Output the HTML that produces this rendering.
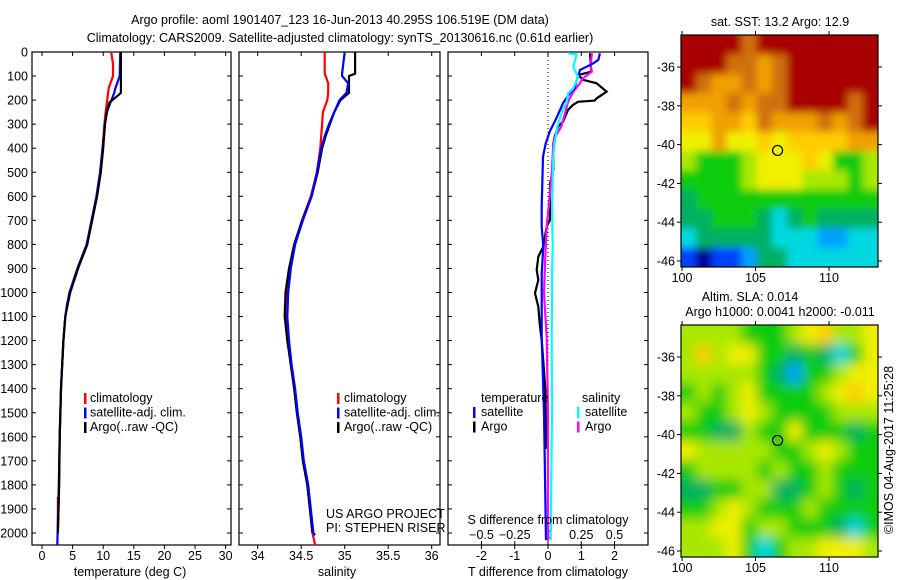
<!DOCTYPE html>
<html><head><meta charset="utf-8"><style>
html,body{margin:0;padding:0;background:#fff;}
svg{display:block;font-family:"Liberation Sans",sans-serif;}
text{font-size:12.5px;fill:#000;}
</style></head><body>
<svg id="c" width="900" height="580" viewBox="0 0 900 580"></svg>
<script>
// ---- data ----
const depthTicks=[0,100,200,300,400,500,600,700,800,900,1000,1100,1200,1300,1400,1500,1600,1700,1800,1900,2000];
const tempTicks=[0,5,10,15,20,25,30];
const salTicks=[34,34.5,35,35.5,36];
const tdTicks=[-2,-1,0,1,2];
const sdTicks=[-0.5,-0.25,0,0.25,0.5];
const lonTicks=[100,105,110];
const latTicks=[-36,-38,-40,-42,-44,-46];

const tDepth=[0,50,100,150,170,190,210,250,300,400,500,600,700,800,900,1000,1050,1100,1200,1300,1400,1600,1800,2000,2050];
const tArgo=[12.9,12.9,12.9,12.9,12.9,12.0,11.0,10.6,10.3,10.0,9.6,9.0,8.2,7.4,5.9,4.6,4.2,3.8,3.5,3.3,3.1,2.9,2.8,2.6,2.6];
const tClim=[11.3,11.6,11.6,10.9,10.8,10.7,10.6,10.4,10.2,9.9,9.5,8.9,8.1,7.3,5.8,4.5,4.1,3.8,3.5,3.3,3.1,2.9,2.8,2.6,2.6];
const tSat=[12.8,12.75,12.7,12.0,11.8,11.5,11.2,10.6,10.3,9.9,9.5,8.9,8.1,7.3,5.8,4.5,4.1,3.8,3.5,3.3,3.1,2.9,2.75,2.55,2.5];

const sDepth=[0,90,100,130,170,200,250,300,350,400,500,600,700,800,900,1000,1100,1200,1300,1400,1500,1600,1700,1800,1900,2000,2050];
const sArgo=[35.12,35.12,35.05,35.05,35.05,34.95,34.88,34.83,34.78,34.74,34.69,34.62,34.51,34.42,34.36,34.32,34.31,34.34,34.38,34.42,34.45,34.49,34.52,34.57,34.6,34.63,34.63];
const sClim=[34.77,34.77,34.78,34.81,34.81,34.8,34.75,34.74,34.73,34.72,34.68,34.61,34.51,34.43,34.37,34.34,34.33,34.35,34.38,34.42,34.45,34.49,34.52,34.57,34.6,34.63,34.66];
const sSat=[35.0,34.97,34.97,35.04,35.02,34.94,34.88,34.82,34.77,34.73,34.68,34.62,34.52,34.43,34.38,34.35,34.34,34.36,34.39,34.43,34.46,34.5,34.53,34.58,34.61,34.64,34.66];

const dtArgoD=[5,82,96,116,130,165,193,202,207,220,241,290,310,352,380,490,546,698,726,809,851,906,948,1003,1059,1142,1197,1400,1650];
const dtArgo=[1.26,1.3,0.9,1.06,1.46,1.76,1.46,1.4,0.9,0.75,0.6,0.45,0.3,0.2,0.16,0.16,0.06,0.06,-0.04,-0.14,-0.29,-0.34,-0.29,-0.39,-0.29,-0.24,-0.19,-0.08,-0.05];
const dtSatD=[5,33,47,61,75,103,123,151,172,213,276,331,380,435,643,726,809,920,1059,1184,1500,2030];
const dtSat=[1.56,1.51,1.36,1.16,0.96,0.9,0.85,0.8,0.65,0.45,0.25,0.05,-0.07,-0.15,-0.19,-0.19,-0.14,-0.19,-0.19,-0.19,-0.12,-0.06];
const dsSatD=[5,10,60,75,103,151,172,213,241,276,310,380,435,643,809,920,1059,1184,1500,2030];
const dsSat=[0.15,0.215,0.19,0.2,0.228,0.19,0.15,0.14,0.11,0.09,0.07,0.05,0.04,0.03,0.035,0.03,0.03,0.028,0.03,0.02];
const dsArgoD=[5,60,82,110,130,165,207,250,310,352,380,490,643,726,851,1003,1184,1500,2030];
const dsArgo=[0.33,0.32,0.33,0.26,0.24,0.19,0.15,0.13,0.1,0.055,0.04,0.03,0.005,-0.01,-0.02,-0.03,-0.01,0.0,0.0];

const sstGrid=[
[11,11,11,11,10,11,11,11,11,11,11,11,11],
[11,11,11,10,10,9,10,11,11,11,11,11,11],
[11,10,9,9,10,9,10,11,11,11,11,11,11],
[9,9,9,10,9,10,10,11,11,11,11,10,11],
[8,8,9,9,8,10,9,9,9,10,9,10,11],
[7,7,9,7,7,8,7,8,8,8,8,9,9],
[6,5,5,5,6,7,7,7,8,7,5,5,6],
[5,5,5,5,6,7,7,7,6,6,6,5,6],
[4,5,5,5,5,5,5,5,5,5,5,5,5],
[4,4,5,5,5,4,3,4,5,4,4,4,4],
[3,4,4,4,4,4,3,3,3,2,2,3,3],
[1,0,1,1,2,4,4,3,3,3,3,3,3]];
const slaGrid=[
[6,6,6,6,5,5,5,6,7,8,6,6,7],
[6,8,6,7,7,5,5,4,5,4,3,5,7],
[6,6,6,6,6,5,4,2,5,5,6,7,7],
[5,6,5,6,7,5,5,5,5,6,7,8,7],
[6,5,5,6,7,6,5,5,5,5,6,6,6],
[5,5,4,4,6,5,5,7,5,5,5,4,5],
[7,6,6,6,6,6,5,5,6,7,6,5,5],
[5,6,6,6,6,5,6,5,5,6,5,5,5],
[4,4,5,5,6,6,4,4,5,6,5,4,5],
[5,5,6,7,6,5,5,5,6,5,5,5,5],
[6,6,7,7,5,6,6,5,5,5,4,3,5],
[6,6,6,7,5,3,5,6,6,7,7,7,6]];
const palette=["#00008f","#0040ff","#00a0ff","#00d8e0","#00b060","#10cc10","#a8e800","#f0f000","#ffcc00","#f0a000","#d07010","#a80000"];
const argoLon=106.5, argoLat=-40.3;

// ---- helpers ----
const S=document.getElementById('c'), NS='http://www.w3.org/2000/svg';
function el(tag,attrs,parent,txt){const e=document.createElementNS(NS,tag);for(const k in attrs)e.setAttribute(k,attrs[k]);if(txt!==undefined)e.textContent=txt;(parent||S).appendChild(e);return e;}
const Y0=52,Y1=545;
const yD=d=>Y0+d*0.2405;
const defs=el('defs',{},S);

function panel(name){
  const g=el('g',{},S);
  
  
  return g;
}
function box(g,x0,x1,y0,y1){el('rect',{x:x0,y:y0,width:x1-x0,height:y1-y0,fill:'none',stroke:'#000','stroke-width':1.2},g);}
function line(g,xs,ds,fx,color,name){
  const pts=xs.map((v,i)=>fx(v).toFixed(1)+','+yD(ds[i]).toFixed(1)).join(' ');
  const p=el('polyline',{points:pts,fill:'none',stroke:color,'stroke-width':2.2},g);
  
  
}
function depthAxis(g,x0,x1,labels){
  depthTicks.forEach(d=>{const y=yD(d);
    el('line',{x1:x0,y1:y,x2:x0+4,y2:y,stroke:'#000'},g);
    el('line',{x1:x1,y1:y,x2:x1-4,y2:y,stroke:'#000'},g);
    if(labels){const t=el('text',{x:x0-4,y:y+4.5,'text-anchor':'end'},g,String(d));
      }
  });
}
function xTicks(g,ticks,fx){
  ticks.forEach(v=>{const x=fx(v);
    el('line',{x1:x,y1:Y0,x2:x,y2:Y0+4,stroke:'#000'},g);
    el('line',{x1:x,y1:Y1,x2:x,y2:Y1+4,stroke:'#000'},g);
    const t=el('text',{x:x,y:Y1+15,'text-anchor':'middle'},g,String(v));
    
  });
}
function legendBar(g,x,y,color){el('rect',{x:x,y:y-9,width:2.5,height:11,fill:color},g);}

let t=el('text',{x:340,y:24,'text-anchor':'middle'},S,'Argo profile: aoml 1901407_123 16-Jun-2013 40.295S 106.519E (DM data)');

t=el('text',{x:340,y:42,'text-anchor':'middle'},S,'Climatology: CARS2009. Satellite-adjusted climatology: synTS_20130616.nc (0.61d earlier)');


// ---- temperature panel ----
const fT=v=>42+v*6.12;
let g=panel('temperature-panel');
box(g,32,231,Y0,Y1);depthAxis(g,32,231,true);xTicks(g,tempTicks,fT);
line(g,tClim,tDepth.map((d,i)=>i==tDepth.length-1?1850:d),fT,'#ff0000','temp-climatology-line');
line(g,tSat,tDepth,fT,'#0000ff','temp-satellite-line');
line(g,tArgo,tDepth.slice(0,-1),fT,'#000000','temp-argo-line');
t=el('text',{x:130,y:576,'text-anchor':'middle'},g,'temperature (deg C)');
[['#ff0000','climatology'],['#0000ff','satellite-adj. clim.'],['#000000','Argo(..raw -QC)']].forEach((e,i)=>{
  const y=402+i*14.5;legendBar(g,84,y,e[0]);const tt=el('text',{x:90,y:y},g,e[1]);
  });

// ---- salinity panel ----
const fS=v=>257.7+(v-34)*87;
g=panel('salinity-panel');
box(g,239,440,Y0,Y1);depthAxis(g,239,440,false);xTicks(g,salTicks,fS);
line(g,sClim,sDepth,fS,'#ff0000','sal-climatology-line');
line(g,sArgo,sDepth.slice(0,-1).concat([2000]),fS,'#000000','sal-argo-line');
line(g,sSat,sDepth.slice(0,-1).concat([2010]),fS,'#0000ff','sal-satellite-line');
t=el('text',{x:337,y:576,'text-anchor':'middle'},g,'salinity');
[['#ff0000','climatology'],['#0000ff','satellite-adj. clim.'],['#000000','Argo(..raw -QC)']].forEach((e,i)=>{
  const y=402+i*14.5;legendBar(g,337,y,e[0]);const tt=el('text',{x:344,y:y},g,e[1]);
  });
t=el('text',{x:326,y:518},g,'US ARGO PROJECT');
t=el('text',{x:326,y:532},g,'PI: STEPHEN RISER');

// ---- difference panel ----
const fDT=v=>548+v*33.3, fDS=v=>548+v*133;
g=panel('difference-panel');
box(g,448,648,Y0,Y1);depthAxis(g,448,648,false);
tdTicks.forEach(v=>{const x=fDT(v);el('line',{x1:x,y1:Y0,x2:x,y2:Y0+4,stroke:'#000'},g);el('line',{x1:x,y1:Y1,x2:x,y2:Y1+4,stroke:'#000'},g);
  const tt=el('text',{x:x,y:Y1+15,'text-anchor':'middle'},g,String(v));});
sdTicks.forEach(v=>{const x=fDS(v);el('line',{x1:x,y1:Y1,x2:x,y2:Y1-4,stroke:'#000'},g);
  const tt=el('text',{x:x,y:539,'text-anchor':'middle'},g,String(v).replace('-','−'));});
el('line',{x1:fDT(0),y1:Y0,x2:fDT(0),y2:Y1,stroke:'#000','stroke-dasharray':'1,3'},g);
line(g,dtArgo,dtArgoD,fDT,'#000000','t-diff-argo-line');
line(g,dsArgo,dsArgoD,fDS,'#ff00ff','s-diff-argo-line');
line(g,dtSat,dtSatD,fDT,'#0000ff','t-diff-satellite-line');
line(g,dsSat,dsSatD,fDS,'#00ffff','s-diff-satellite-line');
t=el('text',{x:548,y:524,'text-anchor':'middle'},g,'S difference from climatology');
t=el('text',{x:548,y:576,'text-anchor':'middle'},g,'T difference from climatology');
t=el('text',{x:481,y:402},g,'temperature');
t=el('text',{x:582,y:402},g,'salinity');
[['#0000ff','satellite',473],['#000000','Argo',473],['#00ffff','satellite',577],['#ff00ff','Argo',577]].forEach((e,i)=>{
  const y=416+(i%2)*14.5;legendBar(g,e[2],y,e[0]);const tt=el('text',{x:e[2]+8,y:y},g,e[1]);
  });

// ---- maps ----
function map(name,grid,top,blur){
  const x0=681,x1=878,y0=top,y1=top+232;
  const g=panel(name);
  const fx=lon=>x0+(lon-99.93)*14.7, fy=lat=>y0+(-34.35-lat)*19.4;
  const cw=(x1-x0)/13, ch=(y1-y0)/12;
  const cp=el('clipPath',{id:name+'-clip'},defs);
  el('rect',{x:x0,y:y0,width:x1-x0,height:y1-y0},cp);
  const f=el('filter',{id:name+'-blur',filterUnits:'userSpaceOnUse',x:x0-20,y:y0-20,width:x1-x0+40,height:y1-y0+40},defs);
  el('feGaussianBlur',{in:'SourceGraphic',stdDeviation:blur,edgeMode:'duplicate'},f);
  const outer=el('g',{'clip-path':'url(#'+name+'-clip)'},g);
  const cells=el('g',{filter:'url(#'+name+'-blur)'},outer);
  grid.forEach((row,r)=>row.forEach((v,c)=>{
    const rc=el('rect',{x:(x0+c*cw-(c==0?20:0)).toFixed(2),y:(y0+r*ch-(r==0?20:0)).toFixed(2),
      width:(cw+0.6+(c==0?20:0)+(c==12?20:0)).toFixed(2),height:(ch+0.6+(r==0?20:0)+(r==11?20:0)).toFixed(2),fill:palette[v]},cells);
    
  }));
  box(g,x0,x1,y0,y1);
  lonTicks.forEach(v=>{const x=fx(v);el('line',{x1:x,y1:y0,x2:x,y2:y0-4,stroke:'#000'},g);el('line',{x1:x,y1:y1,x2:x,y2:y1+4,stroke:'#000'},g);
    const tt=el('text',{x:x,y:y1+15,'text-anchor':'middle'},g,String(v));});
  latTicks.forEach(v=>{const y=fy(v);el('line',{x1:x0,y1:y,x2:x0-4,y2:y,stroke:'#000'},g);el('line',{x1:x1,y1:y,x2:x1+4,y2:y,stroke:'#000'},g);
    const tt=el('text',{x:x0-6,y:y+4.5,'text-anchor':'end'},g,String(v));});
  const c=el('circle',{cx:fx(argoLon),cy:fy(argoLat),r:5,fill:'none',stroke:'#000','stroke-width':1.2},g);
  
  return g;
}
map('sst-map',sstGrid,35,4);
t=el('text',{x:780,y:26,'text-anchor':'middle'},S,'sat. SST: 13.2 Argo: 12.9');
map('sla-map',slaGrid,325,6);
t=el('text',{x:750,y:301,'text-anchor':'middle'},S,'Altim. SLA: 0.014');
t=el('text',{x:780,y:316,'text-anchor':'middle'},S,'Argo h1000: 0.0041 h2000: -0.011');
t=el('text',{x:0,y:0,'text-anchor':'middle',transform:'translate(893,450) rotate(-90)'},S,'©IMOS 04-Aug-2017 11:25:28');
</script>
</body></html>
